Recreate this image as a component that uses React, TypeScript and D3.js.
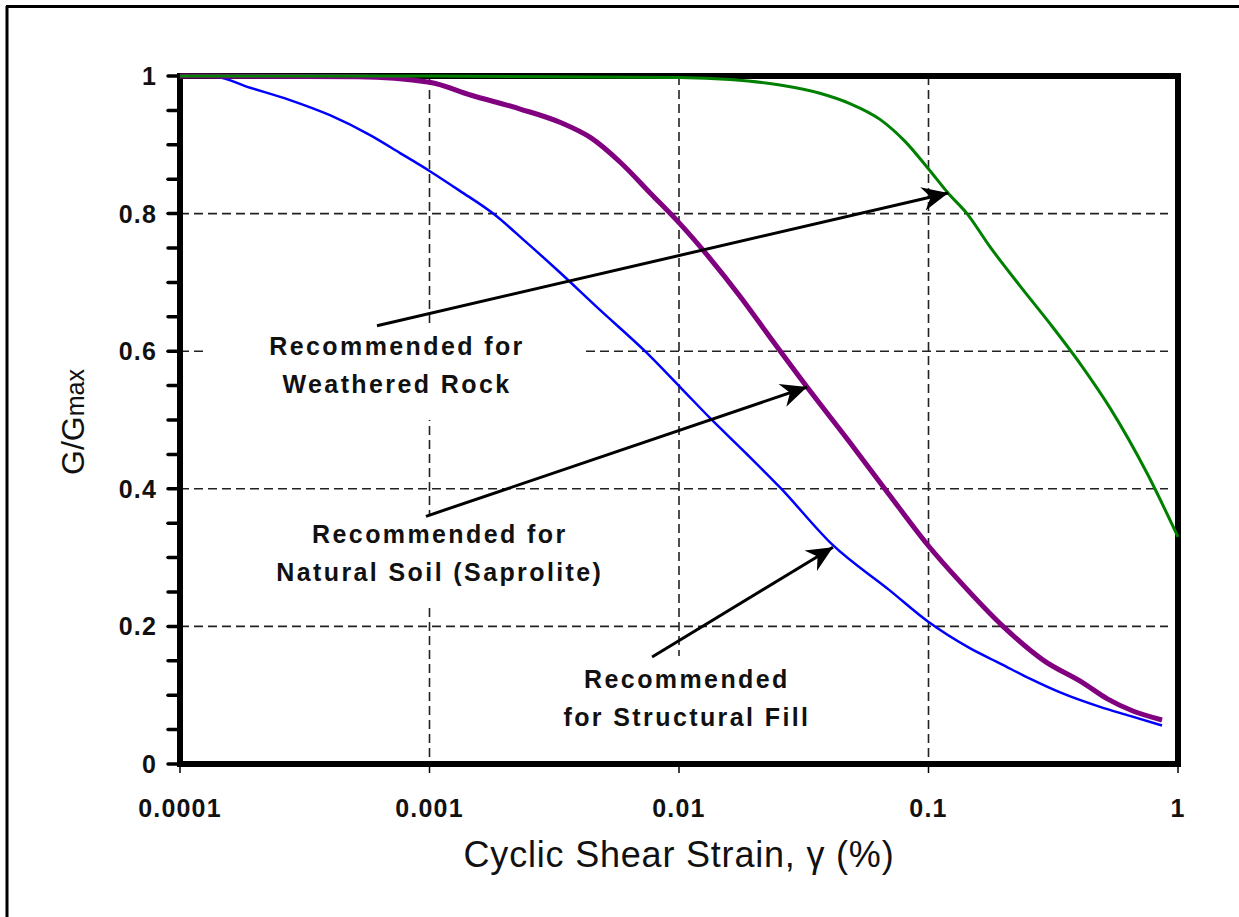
import * as d3 from "d3";

// strain in %, G/Gmax
const fillStrain = [0.0001, 0.000138, 0.000191, 0.000276, 0.000399, 0.000578, 0.000762, 0.001, 0.001324, 0.0018, 0.002415, 0.00325, 0.00482, 0.00731, 0.01028, 0.0133, 0.0184, 0.0254, 0.0414, 0.0701, 0.0995, 0.147, 0.194, 0.255, 0.337, 0.487, 0.642, 0.863];
const fillG = [1.0, 0.999, 0.983, 0.965, 0.943, 0.914, 0.888, 0.862, 0.833, 0.8, 0.76, 0.718, 0.66, 0.6, 0.545, 0.503, 0.453, 0.402, 0.318, 0.252, 0.207, 0.168, 0.146, 0.124, 0.104, 0.083, 0.07, 0.056];

const soilStrain = [0.0001, 0.000516, 0.001, 0.00147, 0.00231, 0.00337, 0.00444, 0.0058, 0.00766, 0.0101, 0.0133, 0.01755, 0.0232, 0.0326, 0.0485, 0.0701, 0.0995, 0.1337, 0.199, 0.288, 0.416, 0.519, 0.66, 0.863];
const soilG = [1.0, 0.999, 0.991, 0.972, 0.952, 0.932, 0.91, 0.875, 0.83, 0.785, 0.735, 0.68, 0.62, 0.548, 0.467, 0.39, 0.318, 0.265, 0.2, 0.151, 0.118, 0.095, 0.077, 0.064];

const rockStrain = [0.0001, 0.001, 0.0101, 0.016, 0.0254, 0.0367, 0.0484, 0.0639, 0.0805, 0.0995, 0.1197, 0.1427, 0.1762, 0.2326, 0.307, 0.405, 0.533, 0.758, 1.0];
const rockG = [1.0, 1.0, 0.998, 0.995, 0.987, 0.975, 0.96, 0.937, 0.905, 0.866, 0.83, 0.8, 0.752, 0.695, 0.64, 0.582, 0.518, 0.42, 0.33];

const xTicks = [0.0001, 0.001, 0.01, 0.1, 1];
const xTickLabels = ["0.0001", "0.001", "0.01", "0.1", "1"];
const yTicks = [0, 0.2, 0.4, 0.6, 0.8, 1];
const yTickLabels = ["0", "0.2", "0.4", "0.6", "0.8", "1"];

// annotations: text lines, text centre (strain, G of first baseline), arrow from -> to
const notes = [
  { lines: ["Recommended for", "Weathered Rock"], at: [0.000741, 0.594], from: [0.000616, 0.637], to: [0.12, 0.83] },
  { lines: ["Recommended for", "Natural Soil (Saprolite)"], at: [0.0011, 0.321], from: [0.000968, 0.36], to: [0.0326, 0.548] },
  { lines: ["Recommended", "for Structural Fill"], at: [0.01076, 0.11], from: [0.0078, 0.1555], to: [0.0414, 0.315] },
];

const W = 1239, H = 917;
const left = 180, right = 1178, top = 76, bottom = 764;
const font = "'Liberation Sans', Arial, sans-serif";

export default function App() {
  const x = d3.scaleLog().domain([0.0001, 1]).range([left, right]);
  const y = d3.scaleLinear().domain([0, 1]).range([bottom, top]);
  const line = d3.line<[number, number]>().x(d => x(d[0])).y(d => y(d[1])).curve(d3.curveMonotoneX);
  const series = [
    { s: fillStrain, g: fillG, color: "#0000ff", w: 2.5 },
    { s: soilStrain, g: soilG, color: "#800080", w: 5 },
    { s: rockStrain, g: rockG, color: "#008000", w: 3 },
  ];
  const minor = d3.range(0, 21).map(i => i * 0.05);
  const boxes = [
    { x0: 205, x1: 586, y0: 325, y1: 420 },
    { x0: 300, x1: 592, y0: 514, y1: 606 },
    { x0: 560, x1: 815, y0: 656, y1: 760 },
  ];

  return (
    <svg width={W} height={H} style={{ position: "absolute", left: 0, top: 0, background: "#fff" }} fontFamily={font}>
      <line x1={7} y1={6} x2={7} y2={H} stroke="#000" strokeWidth={3} />
      <line x1={6} y1={6.5} x2={W} y2={6.5} stroke="#000" strokeWidth={3} />

      {/* grid */}
      {xTicks.slice(1, -1).map(t => (
        <line key={"gx" + t} x1={x(t)} x2={x(t)} y1={top} y2={bottom} stroke="#222" strokeWidth={1.6} strokeDasharray="9 5" />
      ))}
      {yTicks.slice(1, -1).map(t => (
        <line key={"gy" + t} x1={left} x2={right - 10} y1={y(t)} y2={y(t)} stroke="#222" strokeWidth={1.6} strokeDasharray="9 5" />
      ))}
      {boxes.map((b, i) => (
        <rect key={"b" + i} x={b.x0} y={b.y0} width={b.x1 - b.x0} height={b.y1 - b.y0} fill="#fff" />
      ))}

      {/* ticks */}
      {xTicks.map(t => (
        <line key={"tx" + t} x1={x(t)} x2={x(t)} y1={bottom} y2={bottom + 9} stroke="#000" strokeWidth={1.5} />
      ))}
      {minor.map(t => (
        <line key={"ty" + t} x1={left - 12} x2={left} y1={y(t)} y2={y(t)} stroke="#000" strokeWidth={3.5} strokeLinecap="round" />
      ))}
      <rect x={left} y={top} width={right - left} height={bottom - top} fill="none" stroke="#000" strokeWidth={6} />

      {series.map((sr, i) => (
        <path key={"s" + i} d={line(sr.s.map((v, j) => [v, sr.g[j]]) as [number, number][]) || ""} fill="none" stroke={sr.color} strokeWidth={sr.w} strokeLinejoin="round" />
      ))}

      {/* tick labels */}
      {xTicks.map((t, i) => (
        <text key={"lx" + t} x={x(t)} y={817} textAnchor="middle" fontSize={25} fontWeight="bold" letterSpacing={1.2} fill="#111">{xTickLabels[i]}</text>
      ))}
      {yTicks.map((t, i) => (
        <text key={"ly" + t} x={157} y={y(t) + 9} textAnchor="end" fontSize={25} fontWeight="bold" letterSpacing={1.2} fill="#111">{yTickLabels[i]}</text>
      ))}

      {/* axis titles */}
      <text transform="translate(84,422) rotate(-90)" textAnchor="middle" fontSize={32} fill="#111">
        G/G<tspan fontSize={25}>max</tspan>
      </text>
      <text x={679} y={867} textAnchor="middle" fontSize={36} letterSpacing={0.8} fill="#111">
        Cyclic Shear Strain, γ (%)
      </text>

      {/* annotations */}
      <defs>
        <marker id="head" markerUnits="userSpaceOnUse" markerWidth={32} markerHeight={32} refX={0} refY={0} viewBox="-28 -14 32 28" orient="auto">
          <path d="M0,0 L-26,-12 L-18,0 L-26,12 Z" fill="#000" />
        </marker>
      </defs>
      {notes.map((n, i) => (
        <g key={"n" + i}>
          <line x1={x(n.from[0])} y1={y(n.from[1])} x2={x(n.to[0])} y2={y(n.to[1])} stroke="#000" strokeWidth={3} markerEnd="url(#head)" />
          {n.lines.map((l, k) => (
            <text key={k} x={x(n.at[0])} y={y(n.at[1]) + k * 38} textAnchor="middle" fontSize={25} fontWeight="bold" letterSpacing={2.4} fill="#111">{l}</text>
          ))}
        </g>
      ))}
    </svg>
  );
}
